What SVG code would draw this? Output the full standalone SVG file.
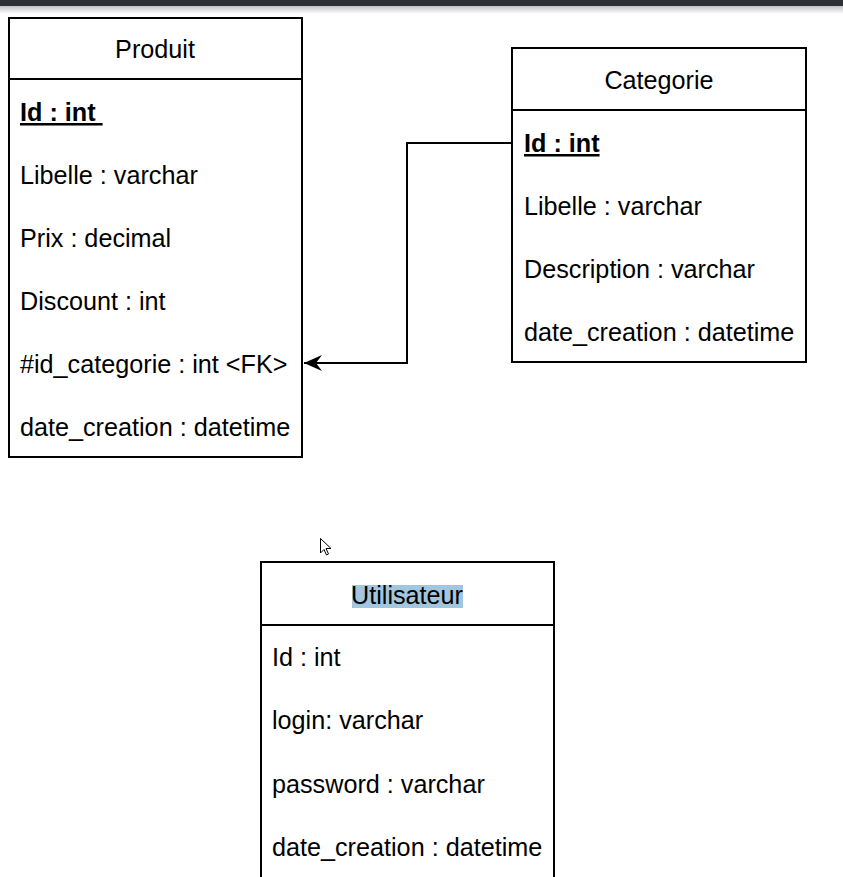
<svg xmlns="http://www.w3.org/2000/svg" width="843" height="877" viewBox="0 0 843 877">
<defs>
<style>
.box{fill:#ffffff;stroke:#000000;stroke-width:2}
.sep{stroke:#000000;stroke-width:2}
.t{font-family:"Liberation Sans",Arial,sans-serif;font-size:25.2px;fill:#000000}
.title{text-anchor:middle}
.pk{font-weight:bold;text-decoration:underline}
.conn{fill:none;stroke:#000000;stroke-width:2}
</style>
<linearGradient id="shade" x1="0" y1="0" x2="0" y2="1">
<stop offset="0" stop-color="#9a9a9a"/>
<stop offset="1" stop-color="#ffffff"/>
</linearGradient>
<marker id="arrow" markerWidth="20" markerHeight="20" refX="18" refY="10" orient="auto" markerUnits="userSpaceOnUse" viewBox="0 0 20 20">
<path d="M0,2 L18,10 L0,18 L6,10 Z" fill="#000000"/>
</marker>
</defs>
<rect x="0" y="0" width="843" height="877" fill="#ffffff"/>
<rect x="0" y="0" width="843" height="6" fill="#2e3136"/>
<rect x="0" y="6" width="843" height="8" fill="url(#shade)" opacity="0.6"/>

<g id="produit">
<rect class="box" x="9" y="18" width="293" height="439"/>
<line class="sep" x1="9" y1="79" x2="302" y2="79"/>
<text class="t title" x="155" y="58">Produit</text>
<text class="t pk" x="20" y="121">Id : int&#160;</text>
<text class="t" x="20" y="184">Libelle : varchar</text>
<text class="t" x="20" y="247">Prix : decimal</text>
<text class="t" x="20" y="310">Discount : int</text>
<text class="t" x="20" y="373">#id_categorie : int &lt;FK&gt;</text>
<text class="t" x="20" y="436">date_creation : datetime</text>
</g>

<g id="categorie">
<rect class="box" x="512" y="48" width="294" height="314"/>
<line class="sep" x1="512" y1="110" x2="806" y2="110"/>
<text class="t title" x="659" y="89">Categorie</text>
<text class="t pk" x="524" y="152">Id : int</text>
<text class="t" x="524" y="215">Libelle : varchar</text>
<text class="t" x="524" y="278">Description : varchar</text>
<text class="t" x="524" y="341">date_creation : datetime</text>
</g>

<g id="utilisateur">
<rect class="box" x="261" y="562" width="293" height="330"/>
<line class="sep" x1="261" y1="625" x2="554" y2="625"/>
<rect x="352" y="585" width="111" height="23" fill="#a3c6df"/>
<text class="t title" x="407" y="604">Utilisateur</text>
<text class="t" x="272" y="666">Id : int</text>
<text class="t" x="272" y="729">login: varchar</text>
<text class="t" x="272" y="793">password : varchar</text>
<text class="t" x="272" y="856">date_creation : datetime</text>
</g>

<g id="connectors">
<path class="conn" d="M512,143 H407 V363 H304" marker-end="url(#arrow)"/>
</g>

<g id="cursor">
<path d="M320.5,538.5 L320.5,553 L324,549.5 L326.5,555 L328.5,554 L326,548.5 L331,548.5 Z" fill="#ffffff" stroke="#000000" stroke-width="1"/>
</g>
</svg>
